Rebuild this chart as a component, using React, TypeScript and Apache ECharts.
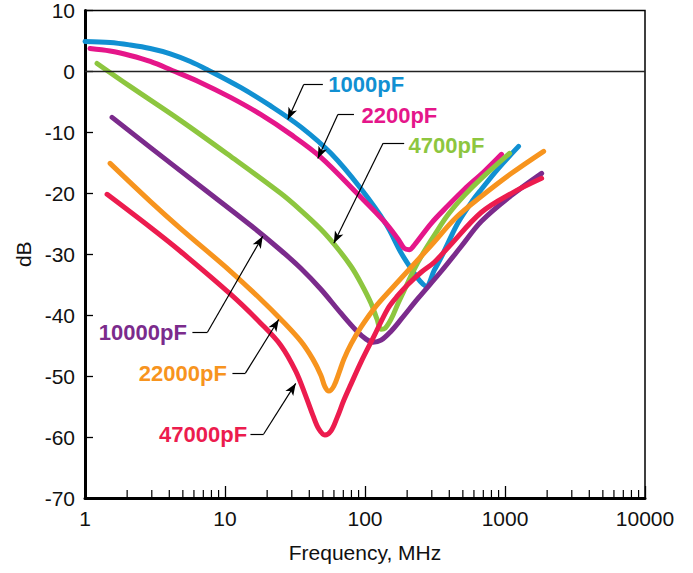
import React, { useEffect, useRef } from "react";
import * as echarts from "echarts";

// Frequency (MHz) / insertion (dB) pairs
const c1000: number[][] = [[1,4.92],[1.511,4.75],[2.1,4.34],[2.924,3.77],[4.07,2.9],[5.66,1.64],[7.37,0.36],[12.92,-2.62],[21.19,-5.66],[34.77,-9.1],[57.05,-13.44],[93.6,-19.26],[141.4,-25.08],[181.3,-29.79],[224.5,-33.11],[247.8,-34.43],[273.6,-35.25],[312.6,-32.62],[350.8,-30.49],[393.7,-28.03],[464.2,-24.75],[575.4,-21.48],[678.6,-19.34],[897.8,-15.9],[1250,-12.3]];
const c2200: number[][] = [[1.086,3.77],[1.511,3.36],[2.1,2.62],[2.924,1.64],[4.2,0.16],[6.67,-1.8],[10.95,-4.26],[17.97,-7.05],[29.5,-10.33],[48.4,-14.1],[89.1,-20.16],[136.8,-24.59],[172.6,-27.54],[190.5,-29.02],[206.8,-29.26],[224.5,-28.52],[297.3,-24.92],[393.7,-21.97],[512.6,-19.34],[712.8,-16.39],[944,-13.61]];
const c4700: number[][] = [[1.219,1.31],[2.1,-2.46],[4.8,-8.03],[10.95,-13.93],[25.0,-20.0],[34.77,-22.79],[48.4,-25.9],[61.9,-28.69],[79.4,-31.97],[93.6,-34.75],[110.4,-38.03],[121.9,-40.66],[130.2,-42.3],[139.2,-42.13],[153.6,-40.66],[172.5,-38.03],[196.8,-35.25],[224.5,-32.46],[264.8,-29.51],[312.4,-26.89],[393.7,-23.44],[512.6,-20.33],[678.6,-17.54],[1077,-13.44]];
const c10000: number[][] = [[1.561,-7.54],[2.924,-12.46],[6.67,-18.85],[15.23,-25.25],[25.0,-29.34],[34.77,-32.3],[48.4,-35.74],[67.3,-39.67],[86.2,-42.46],[101.7,-43.93],[114.1,-44.43],[130.2,-44.1],[153.6,-42.62],[181.2,-40.66],[239.9,-37.21],[350.6,-32.79],[487.7,-28.69],[678.6,-24.59],[1113,-20.33],[1827,-16.72]];
const c22000: number[][] = [[1.511,-15.08],[2.924,-21.31],[4.797,-25.74],[10.95,-32.79],[17.97,-37.38],[25.0,-40.66],[34.77,-44.26],[42.4,-47.21],[48.4,-49.84],[51.7,-51.72],[55.2,-52.46],[59.9,-51.64],[65.1,-49.51],[70.7,-47.21],[79.4,-44.75],[93.6,-41.97],[119.9,-38.52],[153.6,-35.74],[213.6,-32.13],[297.3,-28.52],[449.2,-23.93],[678.6,-20.49],[1113,-16.72],[1888,-13.11]];
const c47000: number[][] = [[1.438,-20.16],[2.924,-25.57],[4.797,-29.51],[10.95,-36.56],[17.97,-41.31],[25.0,-44.92],[32.0,-49.18],[37.76,-53.28],[42.4,-56.39],[46.8,-58.69],[51.7,-59.67],[57.05,-59.02],[63.0,-56.89],[70.7,-53.93],[79.4,-51.31],[93.6,-47.7],[116.0,-43.44],[146.2,-38.85],[172.5,-36.72],[203.4,-34.92],[252.0,-32.95],[312.4,-31.31],[393.7,-28.85],[678.6,-23.11],[1113,-20.0],[1827,-17.54]];

const seriesNames = ["1000pF", "2200pF", "4700pF", "10000pF", "22000pF", "47000pF"];
const seriesData = [c1000, c2200, c4700, c10000, c22000, c47000];
const seriesColors = ["#1190d2", "#e5168a", "#8dc63f", "#7b2b8c", "#f7941e", "#ec1c4e"];

// annotation anchors in data space: label point, leader start, elbow, arrow tip
const labelAt: number[][] = [[54.3,-2.1],[93.6,-7.3],[203,-12.2],[5.39,-42.9],[10.4,-49.6],[14.5,-59.5]];
const labelSide = ["right", "right", "right", "left", "left", "left"];
const leaderStart: number[][] = [[50,-2.13],[83.4,-7.05],[190.5,-11.8],[5.85,-42.8],[11.3,-49.5],[15.2,-59.5]];
const leaderElbow: number[][] = [[36.5,-2.13],[64,-7.05],[134.6,-11.8],[7.49,-42.8],[14.0,-49.5],[18.9,-59.5]];
const arrowTip: number[][] = [[28.1,-7.9],[46,-14.3],[59.9,-28.2],[18.6,-27.05],[24.2,-40.7],[32.0,-51.2]];

const xTickLabels = ["1", "10", "100", "1000", "10000"];
const minorDecades = [1, 10, 100, 1000];
const minorMultipliers = [2, 3, 4, 5, 6, 7, 8, 9];

const FONT = "'Liberation Sans', Arial, Helvetica, sans-serif";

export default function App() {
  const ref = useRef<HTMLDivElement>(null);
  useEffect(() => {
    if (!ref.current) return;
    const chart = echarts.init(ref.current, null, { renderer: "svg" });
    const minorTicks: number[][] = [];
    minorDecades.forEach((d) => minorMultipliers.forEach((m) => minorTicks.push([d * m, -70])));

    const lineSeries = seriesData.map((data, i) => {
      const ml: any[] = [
        [
          { coord: leaderStart[i], symbol: "none" },
          { coord: leaderElbow[i], symbol: "none" },
        ],
        [
          { coord: leaderElbow[i], symbol: "none" },
          { coord: arrowTip[i], symbol: "arrow", symbolSize: [7, 12] },
        ],
      ];
      if (i === 0) {
        ml.push({ yAxis: 0, symbol: "none", lineStyle: { color: "#222", width: 1.3, type: "solid" } });
      }
      return {
        name: seriesNames[i],
        type: "line",
        data,
        showSymbol: false,
        symbol: "none",
        smooth: 0.35,
        lineStyle: { color: seriesColors[i], width: 5, cap: "round", join: "round" },
        itemStyle: { color: seriesColors[i] },
        z: 3 + i,
        silent: true,
        markLine: {
          silent: true,
          symbol: ["none", "none"],
          label: { show: false },
          lineStyle: { color: "#000", width: 1.2, type: "solid" },
          emphasis: { disabled: true },
          data: ml,
          z: 10,
        },
        markPoint: {
          silent: true,
          data: [
            {
              coord: labelAt[i],
              symbol: "circle",
              symbolSize: 1,
              itemStyle: { color: "rgba(0,0,0,0)" },
              label: {
                show: true,
                position: labelSide[i],
                distance: 0,
                formatter: seriesNames[i],
                color: seriesColors[i],
                fontSize: 22,
                fontWeight: "bold",
                fontFamily: FONT,
              },
            },
          ],
        },
      };
    });

    const option: any = {
      animation: false,
      backgroundColor: "#fff",
      grid: {
        left: 85,
        right: 48,
        top: 10,
        bottom: 75,
        show: true,
        borderColor: "#000",
        borderWidth: 1.5,
        containLabel: false,
      },
      xAxis: {
        type: "log",
        logBase: 10,
        min: 1,
        max: 10000,
        name: "Frequency, MHz",
        nameLocation: "middle",
        nameGap: 44,
        nameTextStyle: { fontSize: 21, color: "#111", fontFamily: FONT },
        axisLine: { show: true, onZero: false, lineStyle: { color: "#000", width: 3 } },
        axisTick: { show: true, inside: true, length: 12, lineStyle: { color: "#000", width: 1.3 } },
        axisLabel: {
          fontSize: 21,
          color: "#111",
          fontFamily: FONT,
          margin: 10,
          formatter: (v: number) => {
            const idx = Math.round(Math.log10(v));
            return xTickLabels[idx] ?? String(v);
          },
        },
        splitLine: { show: false },
      },
      yAxis: {
        type: "value",
        min: -70,
        max: 10,
        interval: 10,
        name: "dB",
        nameLocation: "middle",
        nameGap: 46,
        nameRotate: 90,
        nameTextStyle: { fontSize: 21, color: "#111", fontFamily: FONT },
        axisLine: { show: true, onZero: false, lineStyle: { color: "#000", width: 3 } },
        axisTick: { show: true, inside: true, length: 8, lineStyle: { color: "#000", width: 1.3 } },
        axisLabel: { fontSize: 21, color: "#111", fontFamily: FONT, margin: 10 },
        splitLine: { show: false },
      },
      series: [
        ...lineSeries,
        {
          type: "custom",
          silent: true,
          z: 20,
          data: minorTicks,
          encode: { x: 0, y: 1 },
          renderItem: (params: any, api: any) => {
            const p = api.coord([api.value(0), api.value(1)]);
            return {
              type: "line",
              shape: { x1: p[0], y1: p[1], x2: p[0], y2: p[1] - 8 },
              style: { stroke: "#000", lineWidth: 1.2 },
            };
          },
        },
      ],
    };
    chart.setOption(option);
    return () => chart.dispose();
  }, []);
  return (
    <div
      ref={ref}
      style={{ position: "absolute", left: 0, top: 0, width: 693, height: 573 }}
    />
  );
}
